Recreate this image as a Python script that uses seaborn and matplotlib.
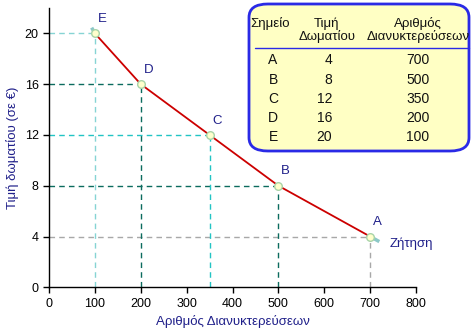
import matplotlib
matplotlib.use("Agg")
import matplotlib.pyplot as plt
from matplotlib.patches import FancyBboxPatch
import seaborn as sns
import pandas as pd

points = ["A", "B", "C", "D", "E"]
prices = [4, 8, 12, 16, 20]
nights = [700, 500, 350, 200, 100]
guide_colors = ["#a8a8a8", "#0b6b5e", "#22c4c4", "#0b6b5e", "#86d4d4"]
x_ticks = [0, 100, 200, 300, 400, 500, 600, 700, 800]
y_ticks = [0, 4, 8, 12, 16, 20]
header = ["Σημείο", "Τιμή\nΔωματίου", "Αριθμός\nΔιανυκτερεύσεων"]
xlabel = "Αριθμός Διανυκτερεύσεων"
ylabel = "Τιμή δωματίου (σε €)"
curve_label = "Ζήτηση"

df = pd.DataFrame({"point": points, "price": prices, "nights": nights})

sns.set_style("ticks")
plt.rcParams["font.family"] = ["Liberation Sans", "DejaVu Sans"]
plt.rcParams["font.size"] = 8

fig = plt.figure(figsize=(4.72, 3.33), dpi=100)
ax = fig.add_axes([49 / 472, 1 - 287.3 / 333, (416 - 49) / 472, (287.3 - 8) / 333])

# guide lines
for xv, yv, c in zip(nights, prices, guide_colors):
    ax.plot([0, xv], [yv, yv], ls=(0, (4, 3)), color=c, lw=1, zorder=1)
    ax.plot([xv, xv], [0, yv], ls=(0, (4, 3)), color=c, lw=1, zorder=1)

# end stubs of the curve
ax.plot([nights[-1], nights[-1] - 7], [prices[-1], prices[-1] + 0.45], color="#8cc8c8", lw=2.5,
        solid_capstyle="butt", zorder=2)
ax.plot([nights[0], nights[0] + 20], [prices[0], prices[0] - 0.4], color="#8cc8c8", lw=2.5,
        solid_capstyle="butt", zorder=2)

sns.lineplot(data=df, x="nights", y="price", sort=False, color="#cc0000", lw=1.3, ax=ax, zorder=3)
sns.scatterplot(data=df, x="nights", y="price", s=30, color="#ffffcc", edgecolor="#a8d4a8",
                linewidth=1, ax=ax, zorder=4)

for p, xv, yv in zip(points, nights, prices):
    ax.annotate(p, (xv, yv), xytext=(2, 6), textcoords="offset points", ha="left", va="bottom",
                color="#20208a", fontsize=9.5)

ax.text(nights[0] + 43, prices[0] - 0.55, curve_label, ha="left", va="center", color="#20208a",
        fontsize=9.5)

ax.set_xlim(0, 800)
ax.set_ylim(0, 22)
ax.set_xticks(x_ticks)
ax.set_yticks(y_ticks)
ax.tick_params(length=4, width=1, colors="black", labelsize=9, direction="out")
for s in ["left", "bottom"]:
    ax.spines[s].set_color("black")
    ax.spines[s].set_linewidth(1)
sns.despine(ax=ax)
ax.set_xlabel(xlabel, color="#20208a", fontsize=9.5, labelpad=4)
ax.set_ylabel(ylabel, color="#20208a", fontsize=9.5, labelpad=4)

# table box
W, H = 472, 333
def fx(px):
    return px / W
def fy(py):
    return 1 - py / H

box = FancyBboxPatch((fx(249), fy(151)), fx(469) - fx(249), fy(4) - fy(151),
                     boxstyle="round,pad=0,rounding_size=0.04", transform=fig.transFigure,
                     facecolor="#ffffc4", edgecolor="#2a2ae6", linewidth=2, zorder=5)
fig.patches.append(box)

tc = "#111111"
kw = dict(color=tc, zorder=10)
fig.text(fx(270), fy(23), header[0], ha="center", va="center", fontsize=9.5, **kw)
fig.text(fx(327), fy(30), header[1], ha="center", va="center", fontsize=9.5, linespacing=1.05, **kw)
fig.text(fx(418), fy(30), header[2], ha="center", va="center", fontsize=9.5, linespacing=1.05, **kw)
fig.add_artist(plt.Line2D([fx(255), fx(469)], [fy(48), fy(48)], color="#2a2ae6", lw=1,
                          transform=fig.transFigure, zorder=10))
row_y = [60, 80, 99, 118, 137]
for py, p, pr, n in zip(row_y, points, prices, nights):
    fig.text(fx(273), fy(py), p, ha="center", va="center", fontsize=10, **kw)
    fig.text(fx(332), fy(py), str(pr), ha="right", va="center", fontsize=10, **kw)
    fig.text(fx(418), fy(py), str(n), ha="center", va="center", fontsize=10, **kw)

fig.savefig("out.png", dpi=100, facecolor="white")
